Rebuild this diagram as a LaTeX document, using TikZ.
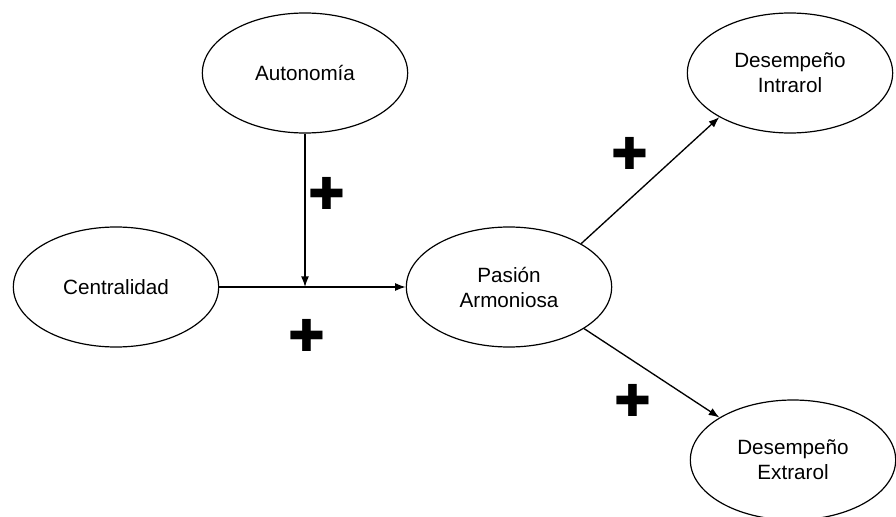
\documentclass[tikz,border=0pt]{standalone}
\usepackage{fontspec}
\setmainfont{Liberation Sans}
\newfontfamily\signfont{DejaVu Sans}
\usetikzlibrary{arrows.meta,shapes.geometric}

\begin{document}
\begin{tikzpicture}[x=0.75pt,y=-0.75pt,construct/.style={draw, ellipse, line width=0.9pt, minimum width=154pt, minimum height=90pt, align=center, font=\fontsize{15.5}{18.75}\selectfont},link/.style={-{Latex[length=8pt,width=6pt]}, line width=1pt},sign/.style={inner sep=0pt, font=\signfont\fontsize{33}{33}\selectfont}]
\useasboundingbox (0,0) rectangle (896,517);
\node[construct] (auto) at (305,73) {Autonomía}; \node[construct] (cent) at (116,287) {Centralidad};
\node[construct] (pasion) at (509,287) {Pasión\\Armoniosa};
\node[construct] (intra) at (790,73) {Desempeño\\Intrarol}; \node[construct] (extra) at (793,460) {Desempeño\\Extrarol};
\coordinate (junction) at (auto.south |- cent.east);
\draw[link] (cent.east) -- (pasion.west); \draw[link] (auto.south) -- (junction);
\draw[link] (pasion.31) -- (intra.212); \draw[link] (pasion.-29) -- (extra.150);
\node[sign] (plusA) at (327,193) {✚}; \node[sign] (plusC) at (307,335) {✚};
\node[sign] (plusI) at (630,153) {✚}; \node[sign] (plusE) at (633,400) {✚};
\end{tikzpicture}
\end{document}
